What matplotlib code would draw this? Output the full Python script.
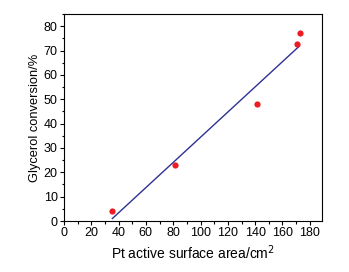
import numpy as np
import matplotlib
matplotlib.use("Agg")
import matplotlib.pyplot as plt
from matplotlib.ticker import MultipleLocator

plt.rcParams['font.family'] = ['Liberation Sans', 'DejaVu Sans']

area = [35.5, 81.5, 141.5, 170.5, 172.5]
conversion = [4.0, 23.0, 48.0, 72.5, 77.0]

fig = plt.figure(figsize=(3.49, 2.72), dpi=100)
ax = fig.add_axes([0.183, 0.1875, 0.74, 0.761])

coef = np.polyfit(area, conversion, 1)
xs = np.array([min(area), max(area)])
ax.plot(xs, np.polyval(coef, xs), color='#2e3192', lw=1.0, zorder=2)
ax.scatter(area, conversion, s=20, color='#ed1c24', zorder=3, linewidths=0)

ax.set_xlim(0, 189)
ax.set_ylim(0, 85)
ax.xaxis.set_major_locator(MultipleLocator(20))
ax.xaxis.set_minor_locator(MultipleLocator(10))
ax.yaxis.set_major_locator(MultipleLocator(10))
ax.yaxis.set_minor_locator(MultipleLocator(5))
ax.tick_params(which='major', direction='out', length=3, width=0.8, labelsize=9, pad=1.5, top=False, right=False)
ax.tick_params(which='minor', direction='out', length=1.8, width=0.8, top=False, right=False)
for s in ax.spines.values():
    s.set_linewidth(0.8)

ax.set_xlabel('Pt active surface area/cm$^2$', fontsize=10, labelpad=3)
ax.set_ylabel('Glycerol conversion/%', fontsize=9.3, labelpad=2)

fig.savefig('out.png', dpi=100)
